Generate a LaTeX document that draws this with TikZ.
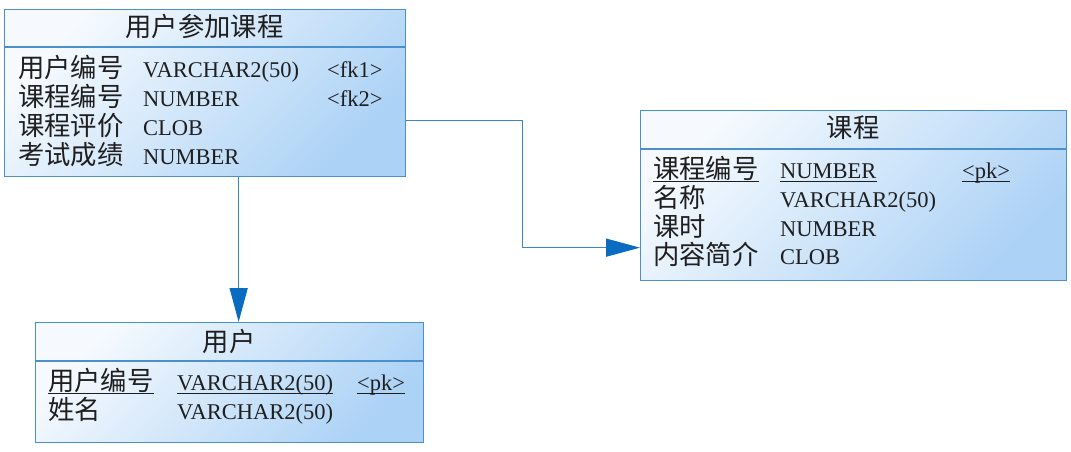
\documentclass[tikz,border=0pt]{standalone}
\usepackage{fontspec}
\setmainfont{Liberation Serif}
\newfontfamily\cjk[Scale=1.17]{Noto Sans CJK SC}
\usetikzlibrary{arrows.meta}
\definecolor{tblborder}{RGB}{74,144,207}
\definecolor{tbllight}{RGB}{246,250,254}
\definecolor{tbldark}{RGB}{172,210,246}
\definecolor{linkcol}{RGB}{59,134,198}
\definecolor{headcol}{RGB}{10,108,192}
\definecolor{txtcol}{gray}{0.12}
\tikzset{
  tbl/.style={draw=tblborder,line width=1.3pt,rectangle,top color=tbllight,bottom color=tbldark,shading angle=45,inner sep=0pt,anchor=north west},
  sep/.style={draw=tblborder,line width=1.3pt},
  ttl/.style={anchor=base,inner sep=0pt,text=txtcol,font=\fontsize{22.5}{26}\selectfont},
  cell/.style={anchor=base west,inner sep=0pt,text=txtcol,font=\fontsize{22.5}{26}\selectfont},
  uline/.style={draw=txtcol,line width=1pt},
  link/.style={draw=linkcol,line width=1.4pt,-{Triangle[length=34pt,width=18pt,color=headcol]}},
}
\begin{document}
\begin{tikzpicture}[x=1pt,y=-1pt]
  \useasboundingbox (0,0) rectangle (1071,451);
  % tables
  \node[tbl,minimum width=401pt,minimum height=167pt] (ucBox) at (4,9) {};
  \draw[sep] ([yshift=-38pt]ucBox.north west) -- ([yshift=-38pt]ucBox.north east);
  \node[ttl] (ucTtl) at (204.5,36) {\cjk 用户参加课程};
  \node[cell] (uc-n1) at (18,77) {\cjk 用户编号};
  \node[cell] (uc-t1) at (143,77) {VARCHAR2(50)};
  \node[cell] (uc-k1) at (327,77) {<fk1>};
  \node[cell] (uc-n2) at (18,106) {\cjk 课程编号};
  \node[cell] (uc-t2) at (143,106) {NUMBER};
  \node[cell] (uc-k2) at (327,106) {<fk2>};
  \node[cell] (uc-n3) at (18,135) {\cjk 课程评价};
  \node[cell] (uc-t3) at (143,135) {CLOB};
  \node[cell] (uc-n4) at (18,164) {\cjk 考试成绩};
  \node[cell] (uc-t4) at (143,164) {NUMBER};

  \node[tbl,minimum width=426pt,minimum height=170pt] (kcBox) at (640,110) {};
  \draw[sep] ([yshift=-39pt]kcBox.north west) -- ([yshift=-39pt]kcBox.north east);
  \node[ttl] (kcTtl) at (853,137) {\cjk 课程};
  \node[cell] (kc-n1) at (653,178) {\cjk 课程编号};
  \node[cell] (kc-t1) at (780,178) {NUMBER};
  \node[cell] (kc-k1) at (962,178) {<pk>};
  \node[cell] (kc-n2) at (653,207) {\cjk 名称};
  \node[cell] (kc-t2) at (780,207) {VARCHAR2(50)};
  \node[cell] (kc-n3) at (653,236) {\cjk 课时};
  \node[cell] (kc-t3) at (780,236) {NUMBER};
  \node[cell] (kc-n4) at (653,264) {\cjk 内容简介};
  \node[cell] (kc-t4) at (780,264) {CLOB};
  \draw[uline] ([yshift=-3pt]kc-n1.base west) -- ([yshift=-3pt]kc-n1.base east);
  \draw[uline] ([yshift=-3pt]kc-t1.base west) -- ([yshift=-3pt]kc-t1.base east);
  \draw[uline] ([yshift=-3pt]kc-k1.base west) -- ([yshift=-3pt]kc-k1.base east);

  \node[tbl,minimum width=388pt,minimum height=120pt] (yhBox) at (35,322) {};
  \draw[sep] ([yshift=-39pt]yhBox.north west) -- ([yshift=-39pt]yhBox.north east);
  \node[ttl] (yhTtl) at (229,351) {\cjk 用户};
  \node[cell] (yh-n1) at (48,390) {\cjk 用户编号};
  \node[cell] (yh-t1) at (177,390) {VARCHAR2(50)};
  \node[cell] (yh-k1) at (357,390) {<pk>};
  \node[cell] (yh-n2) at (48,419) {\cjk 姓名};
  \node[cell] (yh-t2) at (177,419) {VARCHAR2(50)};
  \draw[uline] ([yshift=-3pt]yh-n1.base west) -- ([yshift=-3pt]yh-n1.base east);
  \draw[uline] ([yshift=-3pt]yh-t1.base west) -- ([yshift=-3pt]yh-t1.base east);
  \draw[uline] ([yshift=-3pt]yh-k1.base west) -- ([yshift=-3pt]yh-k1.base east);

  % references
  \draw[link] ([xshift=33.5pt]ucBox.south) -- ([xshift=33.5pt]ucBox.south |- yhBox.north);
  \draw[link] ([yshift=-27.5pt]ucBox.east) -- ++(116,0) |- ([yshift=-52pt]kcBox.west);
\end{tikzpicture}
\end{document}
